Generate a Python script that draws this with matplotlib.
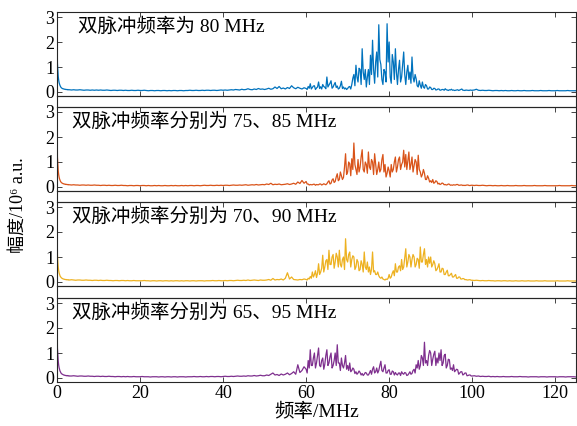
import numpy as np
import matplotlib
matplotlib.use("Agg")
import matplotlib.pyplot as plt
from matplotlib.patches import Rectangle

plt.rcParams['font.family'] = ['Liberation Serif', 'Noto Sans CJK SC', 'DejaVu Serif']

# frequency grid (MHz): fine near DC, 0.25 MHz steps in the active band
f_low = np.linspace(0, 2.9, 30)
f_mid = np.linspace(3.0, 59.5, 114)
f_act = np.linspace(60.0, 99.75, 160)
f_high = np.linspace(100.0, 125.0, 51)
freq = np.concatenate([f_low, f_mid, f_act, f_high])

labels = ['双脉冲频率为 80 MHz', '双脉冲频率分别为 75、85 MHz',
          '双脉冲频率分别为 70、90 MHz', '双脉冲频率分别为 65、95 MHz']
colors = ['#0072BD', '#D95319', '#EDB120', '#7E2F8E']

# amplitude, 10^6 a.u.
blue_low = [3.5, 1.15, 0.85, 0.62, 0.48, 0.38, 0.32, 0.27, 0.23, 0.2, 0.18, 0.16, 0.15, 0.14, 0.13,
            0.13, 0.12, 0.12, 0.11, 0.11, 0.11, 0.1, 0.1, 0.1, 0.1, 0.09, 0.1, 0.09, 0.09, 0.09]
blue_mid = [
    0.09, 0.08, 0.09, 0.08, 0.08, 0.09, 0.08, 0.07, 0.08, 0.08, 0.07, 0.08, 0.07, 0.08,
    0.07, 0.08, 0.07, 0.07, 0.08, 0.07, 0.06, 0.07, 0.07, 0.06, 0.07, 0.07, 0.06, 0.07, 0.06, 0.06, 0.07, 0.06, 0.06, 0.07,
    0.06, 0.06, 0.07, 0.06, 0.05, 0.06, 0.06, 0.05, 0.06, 0.06, 0.05, 0.06, 0.06, 0.05, 0.06, 0.05, 0.06, 0.06, 0.05, 0.06,
    0.06, 0.05, 0.06, 0.06, 0.07, 0.06, 0.06, 0.07, 0.06, 0.06, 0.07, 0.06, 0.07, 0.07, 0.06, 0.07, 0.07, 0.06, 0.07, 0.08,
    0.07, 0.08, 0.07, 0.08, 0.09, 0.08, 0.1, 0.09, 0.08, 0.11, 0.09, 0.1, 0.13, 0.1, 0.09, 0.12, 0.1, 0.14, 0.11, 0.12,
    0.1, 0.12, 0.15, 0.11, 0.13, 0.2, 0.14, 0.22, 0.13, 0.16, 0.12, 0.18, 0.14, 0.25, 0.17, 0.13, 0.19, 0.15, 0.12, 0.17]
blue_act = [
    0.14, 0.1, 0.22, 0.15, 0.33, 0.12, 0.18, 0.24, 0.25, 0.1, 0.16, 0.2, 0.4, 0.14, 0.21, 0.12, 0.3, 0.22, 0.19, 0.13,
    0.6, 0.2, 0.28, 0.35, 0.45, 0.15, 0.2, 0.3, 0.38, 0.18, 0.24, 0.12, 0.15, 0.25, 0.43, 0.14, 0.2, 0.12, 0.16, 0.1,
    0.14, 0.2, 0.22, 0.12, 0.3, 0.55, 0.7, 0.25, 1.07, 0.6, 0.4, 0.95, 0.9, 0.3, 1.73, 0.8, 0.5, 0.9, 0.2, 0.6,
    0.9, 0.3, 1.47, 0.7, 2.07, 0.9, 0.35, 1.2, 1.6, 0.6, 2.69, 1.3, 1.1, 0.5, 0.3, 0.9, 0.8, 0.4, 2.73, 1.2,
    2.0, 0.6, 0.35, 1.5, 1.2, 0.5, 1.73, 0.8, 0.3, 0.9, 1.27, 0.4, 0.6, 1.1, 1.6, 0.7, 0.3, 0.8, 1.07, 0.5,
    0.8, 0.35, 1.4, 0.6, 0.4, 0.7, 0.53, 0.25, 0.2, 0.45, 0.27, 0.15, 0.4, 0.2, 0.15, 0.3, 0.25, 0.12, 0.12, 0.2,
    0.18, 0.1, 0.1, 0.15, 0.14, 0.08, 0.09, 0.12, 0.12, 0.07, 0.08, 0.1, 0.1, 0.07, 0.13, 0.09, 0.08, 0.06, 0.09, 0.08,
    0.11, 0.07, 0.08, 0.06, 0.07, 0.08, 0.09, 0.06, 0.08, 0.1, 0.12, 0.07, 0.07, 0.06, 0.08, 0.07, 0.07, 0.06, 0.08, 0.07]
blue_high = [
    0.07, 0.08, 0.11, 0.07, 0.06, 0.07, 0.06, 0.06, 0.07, 0.06, 0.05, 0.06, 0.06, 0.05, 0.06, 0.05, 0.06, 0.05, 0.05, 0.06,
    0.05, 0.05, 0.06, 0.05, 0.05, 0.06, 0.05, 0.05, 0.05, 0.06, 0.05, 0.05, 0.05, 0.06, 0.05, 0.05, 0.05, 0.06, 0.05, 0.05,
    0.05, 0.06, 0.05, 0.05, 0.05, 0.05, 0.06, 0.05, 0.05, 0.05, 0.05]

orange_low = [3.6, 1.2, 0.9, 0.65, 0.5, 0.4, 0.33, 0.28, 0.24, 0.21, 0.19, 0.17, 0.16, 0.15, 0.14,
              0.13, 0.13, 0.12, 0.12, 0.11, 0.11, 0.1, 0.11, 0.1, 0.1, 0.1, 0.09, 0.1, 0.09, 0.09]
orange_mid = [
    0.09, 0.08, 0.09, 0.08, 0.08, 0.07, 0.08, 0.08, 0.07, 0.08, 0.07, 0.07, 0.08, 0.07,
    0.07, 0.06, 0.07, 0.07, 0.06, 0.07, 0.06, 0.06, 0.07, 0.06, 0.06, 0.07, 0.06, 0.06, 0.05, 0.06, 0.06, 0.05, 0.06, 0.06,
    0.05, 0.06, 0.06, 0.05, 0.06, 0.05, 0.05, 0.06, 0.05, 0.06, 0.05, 0.05, 0.06, 0.05, 0.05, 0.06, 0.05, 0.06, 0.05, 0.05,
    0.06, 0.05, 0.06, 0.05, 0.06, 0.06, 0.05, 0.06, 0.06, 0.05, 0.06, 0.07, 0.06, 0.06, 0.07, 0.06, 0.06, 0.07, 0.06, 0.07,
    0.06, 0.07, 0.07, 0.06, 0.07, 0.08, 0.07, 0.07, 0.08, 0.07, 0.08, 0.09, 0.07, 0.08, 0.09, 0.08, 0.1, 0.08, 0.09, 0.1,
    0.09, 0.12, 0.1, 0.15, 0.09, 0.11, 0.1, 0.12, 0.09, 0.1, 0.11, 0.13, 0.1, 0.12, 0.15, 0.11, 0.2, 0.14, 0.26, 0.15]
orange_act = [
    0.22, 0.12, 0.12, 0.08, 0.1, 0.09, 0.09, 0.11, 0.11, 0.07, 0.1, 0.09, 0.09, 0.12, 0.12, 0.08, 0.1, 0.13, 0.11, 0.09,
    0.13, 0.2, 0.25, 0.12, 0.15, 0.28, 0.33, 0.18, 0.22, 0.4, 0.53, 0.25, 0.3, 0.6, 0.45, 0.3, 0.38, 0.8, 1.33, 0.5,
    0.6, 1.0, 0.93, 0.45, 1.13, 0.7, 1.76, 0.9, 0.7, 0.5, 1.1, 0.6, 0.8, 1.2, 1.49, 0.7, 0.6, 1.0, 0.9, 0.55,
    1.4, 0.8, 0.7, 1.1, 1.0, 0.5, 1.33, 0.9, 0.5, 0.7, 1.0, 0.6, 0.7, 1.1, 1.3, 0.6, 0.9, 0.4, 0.55, 0.8,
    0.65, 0.4, 0.9, 0.6, 0.7, 1.0, 1.2, 0.6, 0.8, 1.1, 1.2, 0.7, 0.9, 1.0, 1.47, 0.8, 1.3, 0.7, 1.05, 1.4,
    0.7, 0.9, 1.2, 0.6, 0.85, 1.1, 1.0, 0.5, 1.27, 0.7, 0.6, 0.4, 0.5, 0.7, 0.55, 0.3, 0.3, 0.45, 0.35, 0.2,
    0.25, 0.18, 0.3, 0.15, 0.18, 0.25, 0.22, 0.12, 0.15, 0.1, 0.12, 0.16, 0.14, 0.09, 0.1, 0.08, 0.09, 0.12, 0.11, 0.07,
    0.08, 0.07, 0.09, 0.08, 0.08, 0.1, 0.1, 0.07, 0.07, 0.08, 0.08, 0.06, 0.07, 0.06, 0.07, 0.08, 0.08, 0.06, 0.06, 0.07]
orange_high = [
    0.07, 0.06, 0.07, 0.06, 0.06, 0.07, 0.06, 0.05, 0.06, 0.06, 0.05, 0.06, 0.05, 0.05, 0.06, 0.05, 0.05, 0.06, 0.05, 0.05,
    0.05, 0.06, 0.05, 0.05, 0.05, 0.06, 0.05, 0.05, 0.05, 0.05, 0.06, 0.05, 0.05, 0.05, 0.05, 0.06, 0.05, 0.05, 0.05, 0.05,
    0.05, 0.05, 0.06, 0.05, 0.05, 0.05, 0.05, 0.05, 0.06, 0.05, 0.05]

yellow_low = [3.6, 1.1, 0.8, 0.6, 0.46, 0.37, 0.31, 0.26, 0.22, 0.2, 0.18, 0.16, 0.15, 0.14, 0.13,
              0.12, 0.12, 0.11, 0.11, 0.1, 0.1, 0.1, 0.09, 0.1, 0.09, 0.09, 0.09, 0.08, 0.09, 0.08]
yellow_mid = [
    0.08, 0.09, 0.08, 0.07, 0.08, 0.08, 0.07, 0.07, 0.08, 0.07, 0.07, 0.06, 0.07, 0.07,
    0.06, 0.07, 0.06, 0.06, 0.07, 0.06, 0.06, 0.05, 0.06, 0.06, 0.05, 0.06, 0.06, 0.05, 0.06, 0.05, 0.05, 0.06, 0.05, 0.05,
    0.05, 0.05, 0.06, 0.05, 0.05, 0.04, 0.05, 0.05, 0.04, 0.05, 0.05, 0.04, 0.05, 0.05, 0.04, 0.05, 0.04, 0.05, 0.05, 0.04,
    0.05, 0.04, 0.05, 0.05, 0.04, 0.05, 0.05, 0.04, 0.05, 0.05, 0.05, 0.04, 0.05, 0.05, 0.05, 0.06, 0.05, 0.05, 0.06, 0.05,
    0.05, 0.06, 0.05, 0.06, 0.06, 0.05, 0.06, 0.07, 0.06, 0.06, 0.07, 0.06, 0.08, 0.06, 0.07, 0.08, 0.07, 0.06, 0.08, 0.07,
    0.07, 0.08, 0.1, 0.07, 0.14, 0.08, 0.1, 0.09, 0.12, 0.08, 0.15, 0.37, 0.12, 0.2, 0.1, 0.09, 0.08, 0.1, 0.09, 0.12]
yellow_act = [
    0.1, 0.08, 0.15, 0.12, 0.22, 0.15, 0.4, 0.2, 0.3, 0.45, 0.18, 0.35, 0.73, 0.3, 0.4, 0.55, 1.07, 0.4, 0.6, 0.85,
    0.9, 0.5, 1.27, 0.7, 0.7, 1.0, 1.1, 0.55, 0.8, 1.15, 1.0, 0.6, 1.27, 0.7, 0.6, 0.9, 1.0, 0.5, 1.73, 0.9,
    0.8, 1.1, 1.2, 0.6, 0.9, 1.05, 1.0, 0.5, 0.6, 0.9, 0.8, 0.45, 0.5, 0.85, 0.7, 0.4, 1.2, 0.6, 0.5, 0.8,
    0.4, 0.6, 0.3, 0.5, 1.2, 0.4, 0.45, 0.3, 0.3, 0.4, 0.25, 0.18, 0.15, 0.2, 0.12, 0.1, 0.08, 0.12, 0.1, 0.15,
    0.3, 0.15, 0.2, 0.35, 0.45, 0.25, 0.73, 0.4, 0.4, 0.6, 0.65, 0.45, 0.9, 0.5, 0.6, 0.95, 1.33, 0.6, 0.8, 1.1,
    1.0, 0.6, 0.9, 1.1, 1.0, 0.6, 0.7, 0.95, 0.9, 0.55, 1.4, 0.8, 0.8, 1.1, 1.33, 0.7, 0.9, 0.6, 1.0, 0.75,
    1.0, 0.6, 0.7, 0.85, 0.73, 0.45, 0.5, 0.6, 0.73, 0.4, 0.4, 0.55, 0.53, 0.3, 0.3, 0.4, 0.47, 0.25, 0.25, 0.3,
    0.35, 0.2, 0.2, 0.25, 0.3, 0.15, 0.15, 0.2, 0.2, 0.12, 0.12, 0.14, 0.13, 0.09, 0.1, 0.08, 0.08, 0.09, 0.09, 0.07]
yellow_high = [
    0.07, 0.06, 0.07, 0.06, 0.05, 0.06, 0.05, 0.05, 0.06, 0.05, 0.05, 0.04, 0.05, 0.05, 0.04, 0.05, 0.05, 0.04, 0.05, 0.04,
    0.04, 0.05, 0.04, 0.04, 0.05, 0.04, 0.04, 0.05, 0.04, 0.04, 0.04, 0.05, 0.04, 0.04, 0.04, 0.05, 0.04, 0.04, 0.04, 0.04,
    0.04, 0.05, 0.04, 0.04, 0.04, 0.04, 0.05, 0.04, 0.04, 0.04, 0.04]

purple_low = [3.6, 1.2, 0.9, 0.68, 0.52, 0.42, 0.35, 0.29, 0.25, 0.22, 0.19, 0.17, 0.16, 0.15, 0.14,
              0.13, 0.12, 0.12, 0.11, 0.11, 0.1, 0.1, 0.1, 0.09, 0.09, 0.1, 0.09, 0.09, 0.08, 0.09]
purple_mid = [
    0.08, 0.08, 0.09, 0.08, 0.07, 0.08, 0.08, 0.07, 0.07, 0.08, 0.07, 0.07, 0.06, 0.07,
    0.07, 0.06, 0.07, 0.06, 0.06, 0.07, 0.06, 0.06, 0.05, 0.06, 0.06, 0.05, 0.06, 0.05, 0.06, 0.05, 0.05, 0.06, 0.05, 0.05,
    0.05, 0.06, 0.05, 0.05, 0.05, 0.04, 0.05, 0.05, 0.05, 0.04, 0.05, 0.05, 0.04, 0.05, 0.05, 0.04, 0.05, 0.05, 0.04, 0.05,
    0.05, 0.05, 0.04, 0.05, 0.05, 0.05, 0.06, 0.05, 0.05, 0.06, 0.05, 0.05, 0.06, 0.05, 0.06, 0.06, 0.05, 0.06, 0.06, 0.05,
    0.06, 0.07, 0.06, 0.06, 0.07, 0.06, 0.07, 0.08, 0.07, 0.07, 0.08, 0.07, 0.09, 0.08, 0.08, 0.1, 0.08, 0.09, 0.11, 0.09,
    0.09, 0.12, 0.1, 0.15, 0.2, 0.12, 0.14, 0.1, 0.16, 0.12, 0.15, 0.2, 0.13, 0.18, 0.25, 0.15, 0.53, 0.22, 0.3, 0.45]
purple_act = [
    0.35, 0.2, 0.7, 0.4, 1.13, 0.5, 0.5, 0.8, 1.0, 0.4, 0.6, 0.9, 1.2, 0.5, 0.45, 0.7, 0.8, 0.35, 0.55, 0.9,
    1.13, 0.5, 0.6, 0.85, 1.0, 0.4, 0.5, 0.7, 1.0, 0.5, 1.33, 0.6, 0.6, 0.3, 0.8, 0.5, 0.4, 0.6, 0.9, 0.35,
    0.5, 0.3, 0.6, 0.25, 0.3, 0.4, 0.35, 0.18, 0.25, 0.15, 0.2, 0.28, 0.22, 0.12, 0.18, 0.1, 0.15, 0.22, 0.2, 0.12,
    0.12, 0.2, 0.3, 0.15, 0.35, 0.45, 0.2, 0.25, 0.4, 0.2, 0.3, 0.5, 0.67, 0.3, 0.25, 0.4, 0.53, 0.2, 0.2, 0.3,
    0.33, 0.15, 0.15, 0.28, 0.25, 0.12, 0.22, 0.15, 0.12, 0.2, 0.2, 0.1, 0.25, 0.18, 0.15, 0.22, 0.2, 0.1, 0.12, 0.18,
    0.25, 0.15, 0.18, 0.3, 0.35, 0.2, 0.53, 0.4, 0.7, 0.35, 0.5, 0.9, 0.8, 0.5, 1.43, 0.6, 0.7, 0.5, 0.9, 1.1,
    1.0, 0.5, 0.75, 0.95, 1.07, 0.5, 0.8, 0.6, 1.0, 0.7, 1.13, 0.5, 0.6, 0.9, 0.95, 0.4, 0.5, 0.75, 0.73, 0.35,
    0.4, 0.3, 0.53, 0.25, 0.3, 0.35, 0.33, 0.15, 0.2, 0.25, 0.25, 0.12, 0.15, 0.2, 0.2, 0.09, 0.1, 0.12, 0.12, 0.08]
purple_high = [
    0.08, 0.09, 0.07, 0.08, 0.06, 0.07, 0.06, 0.06, 0.07, 0.05, 0.06, 0.05, 0.06, 0.05, 0.05, 0.06, 0.05, 0.05, 0.05, 0.06,
    0.05, 0.05, 0.05, 0.06, 0.05, 0.05, 0.05, 0.04, 0.05, 0.05, 0.05, 0.05, 0.04, 0.05, 0.05, 0.05, 0.04, 0.05, 0.05, 0.05,
    0.05, 0.04, 0.05, 0.05, 0.05, 0.04, 0.05, 0.05, 0.05, 0.05, 0.04]

series = [blue_low + blue_mid + blue_act + blue_high,
          orange_low + orange_mid + orange_act + orange_high,
          yellow_low + yellow_mid + yellow_act + yellow_high,
          purple_low + purple_mid + purple_act + purple_high]
for s in series:
    assert len(s) == len(freq), (len(s), len(freq))

W, H = 577, 426
fig = plt.figure(figsize=(W / 100, H / 100), dpi=100)

spine_c = '#262626'
left_px, right_px = 57, 576
tops_px = [12, 107, 202, 298]
h_px = 84
axes = []
for i, top in enumerate(tops_px):
    ax = fig.add_axes([left_px / W, 1 - (top + h_px) / H, (right_px - left_px) / W, h_px / H])
    ax.plot(freq, series[i], color=colors[i], lw=0.9)
    ax.set_xlim(0, 125)
    ax.set_ylim(-0.16, 3.2)
    ax.set_yticks([0, 1, 2, 3])
    ax.set_xticks(range(0, 121, 20))
    ax.tick_params(direction='in', top=True, right=True, length=3.5, width=0.6,
                   labelsize=13, color=spine_c, pad=2)
    if i < 3:
        ax.tick_params(labelbottom=False)
    for sp in ax.spines.values():
        sp.set_color(spine_c)
        sp.set_linewidth(0.8)
    xt = 0.04 if i == 0 else 0.029
    ax.text(xt, 0.82, labels[i], transform=ax.transAxes, fontsize=14, va='center', ha='left')
    axes.append(ax)

# thin boxed strips between panels
for i in range(3):
    y0 = 1 - tops_px[i + 1] / H
    y1 = 1 - (tops_px[i] + h_px) / H
    fig.add_artist(Rectangle((left_px / W, y0), (right_px - left_px) / W, y1 - y0,
                             transform=fig.transFigure, fill=False, ec=spine_c, lw=0.8))

axes[-1].set_xlabel('频率/MHz', fontsize=14, labelpad=1)
fig.text(18 / W, 1 - 205 / H, '幅度/10⁶ a.u.', rotation=90, fontsize=13,
         ha='center', va='center')

fig.savefig('out.png', dpi=100)
